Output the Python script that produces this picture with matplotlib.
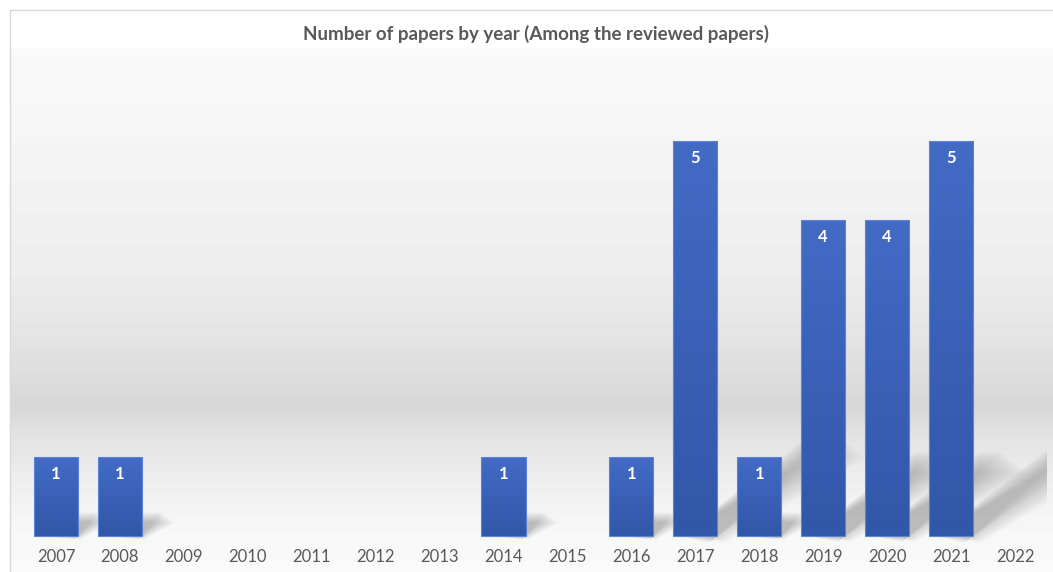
import numpy as np
import matplotlib.pyplot as plt
from matplotlib.patches import Polygon, Rectangle

years = [2007, 2008, 2009, 2010, 2011, 2012, 2013, 2014, 2015,
         2016, 2017, 2018, 2019, 2020, 2021, 2022]
papers = [1, 1, 0, 0, 0, 0, 0, 1, 0, 1, 5, 1, 4, 4, 5, 0]
title = 'Number of papers by year (Among the reviewed papers)'

plt.rcParams['font.family'] = ['Lato', 'DejaVu Sans']

W, H = 1053, 572
fig = plt.figure(figsize=(W / 100, H / 100), dpi=100)
fig.patch.set_facecolor('white')

# light frame at the top and left, like the pasted chart box
fig.add_artist(plt.Line2D([10 / W, 10 / W], [0, 1 - 10 / H], color='#d9d9d9', lw=1))
fig.add_artist(plt.Line2D([10 / W, 1], [1 - 10 / H, 1 - 10 / H], color='#d9d9d9', lw=1))

ax = fig.add_axes([11 / W, 0, (W - 11) / W, (H - 48) / H])
x = np.arange(len(years))
step = 63.93
px = 79.0
xmin = -(56 - 11) / step
xmax = xmin + (W - 11) / step
ymin = -(H - 536) / px
ymax = (536 - 48) / px
ax.set_xlim(xmin, xmax)
ax.set_ylim(ymin, ymax)
ax.axis('off')

# banded grey background
rows = np.linspace(48, H, 400)
anch_px = [48, 117, 200, 277, 317, 343, 373, 400, 412, 433, 473, 513, 540, 572]
anch_g = [250, 247, 242, 237, 232, 227, 222, 217, 217, 226, 237, 245, 249, 250]
g = np.interp(rows, anch_px, anch_g) / 255.0
g = np.round(g * 120) / 120
bg = np.repeat(g[:, None], 2, axis=1)
ax.imshow(np.dstack([bg, bg, bg]), extent=[xmin, xmax, ymin, ymax],
          aspect='auto', origin='upper', zorder=0, interpolation='bilinear')

bw = 0.69
vals = np.array(papers)
nz = vals > 0

# soft diagonal shadows, clipped at the right edge of the plot area
clip = Rectangle((xmin, ymin), (1047 - 11) / step, ymax - ymin,
                 transform=ax.transData, visible=False)
ax.add_patch(clip)
for xi, h in zip(x[nz], vals[nz]):
    dx = 0.42 * h
    dy = 0.23 * h
    xl, xr = xi - bw / 2, xi + bw / 2
    for k in range(14):
        s = (0.01 + 0.006 * h) * (k - 7)
        poly = Polygon([(xl + 0.1, 0.0), (xr + s * 0.5, -0.01 - abs(s) * 0.3),
                        (xr + dx + s, dy - s * 0.6), (xl + dx + 0.1, dy - s * 0.6)],
                       closed=True, facecolor='#808080', edgecolor='none',
                       alpha=0.045, zorder=1)
        ax.add_patch(poly)
        poly.set_clip_path(clip)

# bars with vertical blue gradient
grad = np.linspace(0, 1, 100)[:, None]
top = np.array([0x43, 0x6b, 0xc6]) / 255
bot = np.array([0x31, 0x57, 0xa8]) / 255
img = top + (bot - top) * grad[..., None]
img = np.repeat(img, 2, axis=1)
bars = ax.bar(x[nz], vals[nz], width=bw, color='none', edgecolor='#5b84d6',
              lw=0.8, zorder=3)
for b, h in zip(bars, vals[nz]):
    im = ax.imshow(img, extent=[b.get_x(), b.get_x() + bw, 0, h], aspect='auto',
                   origin='upper', zorder=2)
    im.set_clip_path(b)
    ax.text(b.get_x() + bw / 2, h - 0.22, str(h), ha='center', va='center',
            color='white', fontsize=12, fontweight='bold', zorder=4)

for xi, yr in zip(x, years):
    ax.text(xi, -0.27, str(yr), ha='center', va='center', color='#595959',
            fontsize=12, zorder=4)

fig.text(536 / W, 1 - 34 / H, title, ha='center', va='center', color='#595959',
         fontsize=13.5, fontweight='bold')

fig.savefig('out.png', dpi=100)
